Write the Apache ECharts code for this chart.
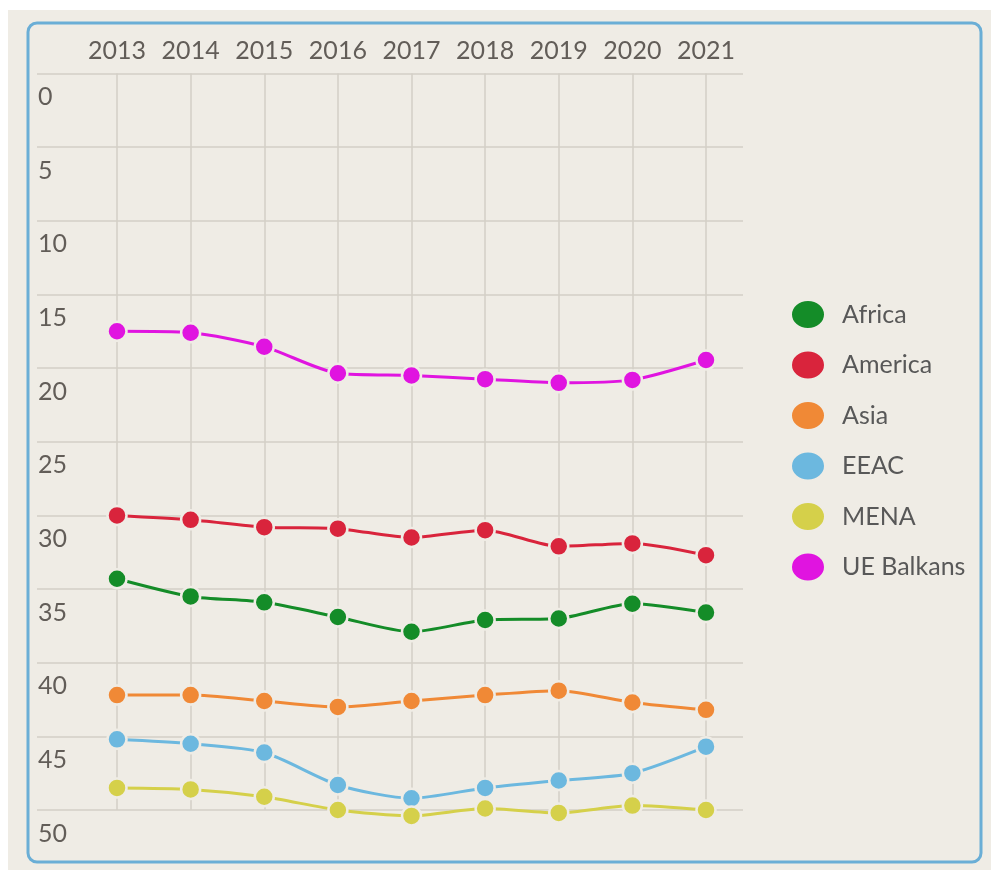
<!DOCTYPE html>
<html>
<head>
<meta charset="utf-8">
<script src="https://cdn.jsdelivr.net/npm/echarts@6/dist/echarts.min.js"></script>
<style>
    html, body { margin: 0; padding: 0; background: #fff; }
    #chart { width: 991px; height: 870px; }
</style>
</head>
<body>
<div id="chart"></div>
<script>
'use strict';

// chart data
var years = ['2013', '2014', '2015', '2016', '2017', '2018', '2019', '2020', '2021'];
var yTicks = [0, 5, 10, 15, 20, 25, 30, 35, 40, 45, 50];

var africa    = [34.3, 35.5, 35.9, 36.9, 37.9, 37.1, 37.0, 36.0, 36.6];
var america   = [30.0, 30.3, 30.8, 30.9, 31.5, 31.0, 32.1, 31.9, 32.7];
var asia      = [42.2, 42.2, 42.6, 43.0, 42.6, 42.2, 41.9, 42.7, 43.2];
var eeac      = [45.2, 45.5, 46.1, 48.3, 49.2, 48.5, 48.0, 47.5, 45.7];
var mena      = [48.5, 48.6, 49.1, 50.0, 50.4, 49.9, 50.2, 49.7, 50.0];
var ueBalkans = [17.5, 17.6, 18.55, 20.35, 20.5, 20.75, 21.0, 20.8, 19.45];

(function (echarts) {

    var BG = '#efece5',
        GRID_COLOR = '#d3cfc6',
        FONT = 'Lato';

    var seriesDefs = [
        {name: 'Africa', data: africa, color: '#148c28'},
        {name: 'America', data: america, color: '#d9243c'},
        {name: 'Asia', data: asia, color: '#f08936'},
        {name: 'EEAC', data: eeac, color: '#6cb8df'},
        {name: 'MENA', data: mena, color: '#d5d04a'},
        {name: 'UE Balkans', data: ueBalkans, color: '#e014e0'}
    ];

    var series = seriesDefs.map(function (s) {
        return {
            name: s.name,
            type: 'line',
            xAxisIndex: 1,
            yAxisIndex: 1,
            data: s.data,
            smooth: 0.25,
            clip: false,
            symbol: 'circle',
            symbolSize: 19,
            animation: false,
            lineStyle: {color: s.color, width: 3},
            itemStyle: {color: s.color, borderColor: BG, borderWidth: 2.5}
        };
    });

    var yBase = {
        type: 'value',
        inverse: true,
        min: yTicks[0],
        max: yTicks[yTicks.length - 1],
        interval: 5
    };

    var chart = echarts.init(document.getElementById('chart'), null, {renderer: 'canvas'});
    chart.setOption({
        backgroundColor: '#fff',
        animation: false,
        textStyle: {fontFamily: FONT},
        graphic: [
            {type: 'rect', z: -10, shape: {x: 8, y: 10, width: 983, height: 860}, style: {fill: BG}},
            {type: 'rect', z: -9, shape: {x: 28, y: 23, width: 953, height: 839, r: 9},
                style: {fill: BG, stroke: '#6aaed6', lineWidth: 3}}
        ],
        // grid 0 carries the horizontal lines, grid 1 the years and the data
        grid: [
            {left: 37, right: 248, top: 73.5, bottom: 60},
            {left: 117, right: 285, top: 73.5, bottom: 60}
        ],
        legend: {
            orient: 'vertical',
            left: 785,
            top: 294,
            itemWidth: 34,
            itemHeight: 29,
            itemGap: 19.5,
            symbolKeepAspect: false,
            icon: 'path://M50,0A50,50,0,1,1,50,100A50,50,0,1,1,50,0Z',
            textStyle: {fontFamily: FONT, fontSize: 25, color: '#585858', padding: [0, 0, 0, 12]},
            data: seriesDefs.map(function (s) { return s.name; })
        },
        xAxis: [
            {type: 'value', gridIndex: 0, show: false, min: 0, max: 1},
            {
                type: 'category',
                gridIndex: 1,
                position: 'top',
                boundaryGap: false,
                data: years,
                axisLine: {show: false},
                axisTick: {show: false},
                axisLabel: {interval: 0, hideOverlap: false, fontFamily: FONT, fontSize: 25, color: '#625d58', margin: 10},
                splitLine: {show: true, interval: 0, lineStyle: {color: GRID_COLOR, width: 1.5}}
            }
        ],
        yAxis: [
            Object.assign({}, yBase, {
                gridIndex: 0,
                axisLine: {show: false},
                axisTick: {show: false},
                axisLabel: {
                    inside: true,
                    margin: 1,
                    align: 'left',
                    verticalAlign: 'top',
                    padding: [11, 0, 0, 0],
                    fontFamily: FONT,
                    fontSize: 25,
                    color: '#625d58'
                },
                splitLine: {show: true, lineStyle: {color: GRID_COLOR, width: 1.5}}
            }),
            Object.assign({}, yBase, {gridIndex: 1, show: false})
        ],
        series: series
    });

})(echarts);
</script>
</body>
</html>
